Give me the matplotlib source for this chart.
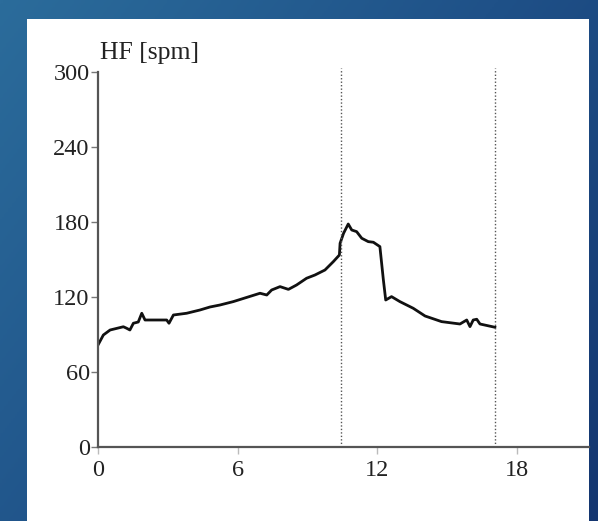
import numpy as np
import matplotlib
matplotlib.use("Agg")
import matplotlib.pyplot as plt
from matplotlib.colors import LinearSegmentedColormap
from matplotlib.patches import Rectangle

# ---- data (time in min, heart rate in bpm) ----
time_min = [0.0, 0.23, 0.52, 1.09, 1.23, 1.37, 1.52, 1.73, 1.88, 2.02, 2.38, 2.95,
            3.05, 3.24, 3.81, 4.38, 4.81, 5.24, 5.81, 6.96, 7.25, 7.46, 7.82, 8.18,
            8.53, 8.96, 9.32, 9.75, 10.11, 10.37, 10.40, 10.55, 10.75, 10.90, 11.11,
            11.33, 11.61, 11.83, 12.11, 12.26, 12.36, 12.61, 12.97, 13.54, 14.05,
            14.76, 15.55, 15.84, 15.98, 16.12, 16.27, 16.41, 17.05]
heart_rate = [81.6, 89.6, 93.6, 96.2, 95.0, 93.6, 99.0, 100.0, 107.0, 101.6, 101.6, 101.6,
              99.0, 105.6, 107.0, 109.6, 112.0, 113.6, 116.3, 123.0, 121.6, 125.6, 128.3, 126.1,
              129.6, 135.0, 137.6, 141.6, 148.3, 153.6, 163.0, 171.0, 178.4, 173.6, 172.3,
              167.0, 164.3, 163.8, 160.3, 133.6, 117.6, 120.3, 116.3, 111.0, 104.8,
              100.3, 98.4, 101.6, 96.3, 101.6, 102.2, 98.4, 95.8]
marker_lines = [10.44, 17.05]
x_ticks = [0, 6, 12, 18]
y_ticks = [0, 60, 120, 180, 240, 300]
y_label = "HF [spm]"

W, H = 598, 521
fig = plt.figure(figsize=(W / 100, H / 100), dpi=100)

# background gradient
bg = fig.add_axes([0, 0, 1, 1])
bg.set_axis_off()
gx, gy = np.meshgrid(np.linspace(0, 1, 300), np.linspace(0, 1, 300))
g = (gx * 0.6 + gy * 0.4)
cmap = LinearSegmentedColormap.from_list("bg", ["#2b6c9b", "#1f5188", "#143670"])
bg.imshow(g, cmap=cmap, aspect="auto", extent=[0, 1, 0, 1], origin="upper")
bg.set_xlim(0, 1)
bg.set_ylim(0, 1)

# white panel
fig.patches.append(Rectangle((27 / W, 0), (589 - 27) / W, 1 - 19 / H,
                             transform=fig.transFigure, facecolor="white",
                             edgecolor="none", zorder=1))

serif = ["Liberation Serif", "DejaVu Serif"]

left = 98 / W
bottom = 1 - 447 / H
width = (589 - 98) / W
height = (447 - 72) / H
ax = fig.add_axes([left, bottom, width, height])
ax.set_facecolor("none")
ax.set_zorder(3)

ax.plot(time_min, heart_rate, color="#111111", lw=2.0, solid_joinstyle="round")
for xv in marker_lines:
    ax.plot([xv, xv], [0, 303], color="#555555", lw=1.0, linestyle=(0, (1, 1.5)),
            clip_on=False)

ax.set_xlim(0, (589 - 98) / ((517 - 98) / 18))
ax.set_ylim(0, 300)
ax.set_xticks(x_ticks)
ax.set_yticks(y_ticks)
ax.set_xticklabels([str(t) for t in x_ticks], fontfamily=serif, fontsize=17.5, color="#222222")
ax.set_yticklabels([str(t) for t in y_ticks], fontfamily=serif, fontsize=17.5, color="#222222")
ax.tick_params(axis="y", direction="out", length=5, width=1, color="#777777", pad=1)
ax.tick_params(axis="x", direction="out", length=5, width=1, color="#bbbbbb", pad=4)

for s in ["top", "right"]:
    ax.spines[s].set_visible(False)
for s in ["left", "bottom"]:
    ax.spines[s].set_color("#555555")
    ax.spines[s].set_linewidth(1.6)

fig.text(100 / W, 1 - 53 / H, y_label, fontfamily=serif, fontsize=18.5,
         color="#222222", ha="left", va="center", zorder=5)

fig.savefig("out.png", dpi=100)
